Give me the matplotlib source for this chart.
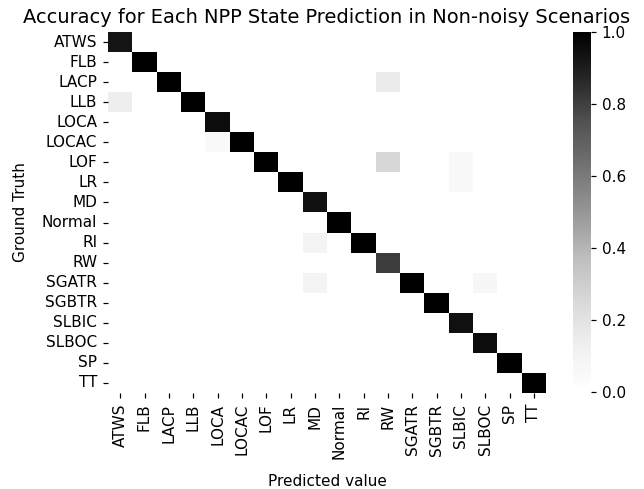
import numpy as np
import matplotlib
matplotlib.use("Agg")
import matplotlib.pyplot as plt
import seaborn as sns

labels = ["ATWS", "FLB", "LACP", "LLB", "LOCA", "LOCAC", "LOF", "LR", "MD",
          "Normal", "RI", "RW", "SGATR", "SGBTR", "SLBIC", "SLBOC", "SP", "TT"]

diag = [0.93, 1.0, 1.0, 1.0, 0.96, 1.0, 1.0, 1.0, 0.94,
        1.0, 1.0, 0.81, 1.0, 1.0, 0.945, 0.96, 1.0, 1.0]

# off-diagonal entries: (row label, column label, value)
off_rows = ["LACP", "LLB", "LOCAC", "LOF", "LOF", "LR", "RI", "SGATR", "SGATR"]
off_cols = ["RW", "ATWS", "LOCA", "RW", "SLBIC", "SLBIC", "MD", "MD", "SLBOC"]
off_vals = [0.15, 0.14, 0.05, 0.26, 0.06, 0.06, 0.09, 0.09, 0.07]

n = len(labels)
mat = np.zeros((n, n))
for i, v in enumerate(diag):
    mat[i, i] = v
for r, c, v in zip(off_rows, off_cols, off_vals):
    mat[labels.index(r), labels.index(c)] = v

W, H, DPI = 644, 489, 110
fig = plt.figure(figsize=(W / DPI, H / DPI), dpi=DPI)
ax = fig.add_axes([108 / W, 1 - 393 / H, 438 / W, 361 / H])
cax = fig.add_axes([573 / W, 1 - 392 / H, 18 / W, 360 / H])
sns.heatmap(mat, cmap="Greys", vmin=0, vmax=1, xticklabels=labels,
            yticklabels=labels, ax=ax, cbar_ax=cax)
ax.set_title("Accuracy for Each NPP State Prediction in Non-noisy Scenarios",
             fontsize=12.7)
ax.set_xlabel("Predicted value", labelpad=10)
ax.set_ylabel("Ground Truth", labelpad=9)
fig.savefig("out.png", dpi=DPI)
